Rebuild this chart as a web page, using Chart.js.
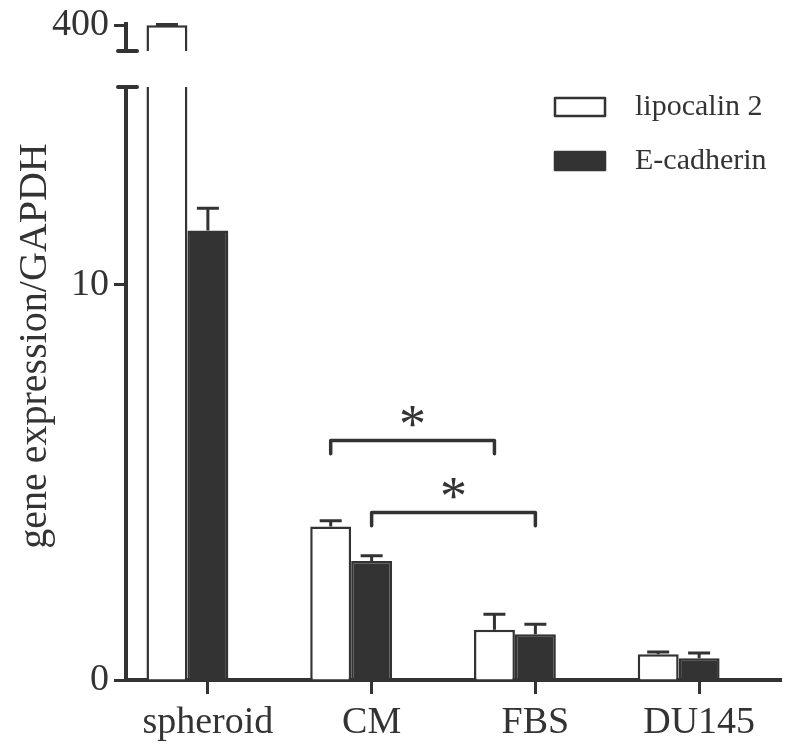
<!DOCTYPE html>
<html>
<head>
<meta charset="utf-8">
<script src="https://cdn.jsdelivr.net/npm/chart.js@4/dist/chart.umd.min.js"></script>
<style>
	html, body { margin: 0; padding: 0; background: #fff; }
	#wrap { position: relative; width: 794px; height: 749px; }
	canvas { position: absolute; left: 0; top: 0; }
</style>
</head>
<body>
<div id="wrap">
	<canvas id="lower" width="794" height="749"></canvas>
	<canvas id="upper" width="794" height="87"></canvas>
</div>
<script>
const categories = ['spheroid', 'CM', 'FBS', 'DU145'];
const lipocalin = [400, 3.88, 1.27, 0.65];
const lipocalinErr = [0.3, 0.15, 0.39, 0.06];
const ecadherin = [11.37, 3.01, 1.16, 0.55];
const ecadherinErr = [0.56, 0.13, 0.25, 0.13];
const lowerRange = [0, 15];
const upperRange = [390, 400.5];
const lowerTicks = [0, 10];
const upperTicks = [400];
// significance brackets: [category, series] -> [category, series], bar height, leg drop, star height
const brackets = [
	{ from: [1, 0], to: [2, 0], y: 6.06, drop: 0.34, star: 6.67 },
	{ from: [1, 1], to: [2, 1], y: 4.24, drop: 0.34, star: 4.85 },
];

const INK = '#333';
const SERIF = '"Liberation Serif", "Times New Roman", serif';

function buildDatasets(keep) {
	return [
		{ label: 'lipocalin 2', data: lipocalin.map(keep), err: lipocalinErr, backgroundColor: '#fff', borderColor: INK, borderWidth: 2.5 },
		{ label: 'E-cadherin', data: ecadherin.map(keep), err: ecadherinErr, backgroundColor: INK, borderColor: INK, borderWidth: 2.5 },
		// empty third slot, keeps the tick under the E-cadherin bar
		{ label: '', data: categories.map(() => null) },
	];
}

const errorBars = {
	id: 'errorBars',
	afterDatasetsDraw(chart) {
		const { ctx, scales: { y } } = chart;
		ctx.save();
		ctx.strokeStyle = INK;
		ctx.lineWidth = 3;
		chart.data.datasets.forEach((ds, di) => {
			if (!ds.err) return;
			chart.getDatasetMeta(di).data.forEach((bar, i) => {
				const v = ds.data[i];
				if (v == null || v > y.max) return;
				const top = y.getPixelForValue(v + ds.err[i]);
				ctx.beginPath();
				ctx.moveTo(bar.x, bar.y);
				ctx.lineTo(bar.x, top);
				ctx.moveTo(bar.x - 11, top);
				ctx.lineTo(bar.x + 11, top);
				ctx.stroke();
			});
		});
		ctx.restore();
	},
};

function breakMark(edge) {
	return {
		id: 'breakMark',
		afterDraw(chart) {
			const { ctx, chartArea } = chart;
			const yy = chartArea[edge];
			ctx.save();
			ctx.strokeStyle = INK;
			ctx.lineWidth = 4;
			ctx.lineCap = 'round';
			ctx.beginPath();
			ctx.moveTo(chartArea.left - 8, yy);
			ctx.lineTo(chartArea.left + 11, yy);
			ctx.stroke();
			ctx.restore();
		},
	};
}

const extras = {
	id: 'extras',
	afterDraw(chart) {
		const { ctx, scales: { y } } = chart;
		ctx.save();
		ctx.fillStyle = INK;
		ctx.strokeStyle = INK;

		// y title, centred on the whole broken axis
		ctx.save();
		ctx.translate(35, 346);
		ctx.rotate(-Math.PI / 2);
		ctx.font = '40px ' + SERIF;
		ctx.textAlign = 'center';
		ctx.textBaseline = 'middle';
		ctx.fillText('gene expression/GAPDH', 0, 0);
		ctx.restore();

		// brackets
		ctx.lineWidth = 3.5;
		ctx.lineJoin = 'round';
		ctx.lineCap = 'round';
		brackets.forEach((b) => {
			const x1 = chart.getDatasetMeta(b.from[1]).data[b.from[0]].x;
			const x2 = chart.getDatasetMeta(b.to[1]).data[b.to[0]].x;
			const yb = y.getPixelForValue(b.y);
			const yd = y.getPixelForValue(b.y - b.drop);
			ctx.beginPath();
			ctx.moveTo(x1, yd);
			ctx.lineTo(x1, yb);
			ctx.lineTo(x2, yb);
			ctx.lineTo(x2, yd);
			ctx.stroke();
			ctx.font = '54px ' + SERIF;
			ctx.textAlign = 'center';
			ctx.textBaseline = 'alphabetic';
			const m = ctx.measureText('*');
			const ys = y.getPixelForValue(b.star);
			const off = (m.actualBoundingBoxAscent - m.actualBoundingBoxDescent) / 2;
			ctx.fillText('*', (x1 + x2) / 2, ys + off);
		});

		// legend
		ctx.font = '30px ' + SERIF;
		ctx.textAlign = 'left';
		ctx.textBaseline = 'middle';
		ctx.lineWidth = 2.5;
		const rows = [98, 152];
		chart.data.datasets.slice(0, 2).forEach((ds, i) => {
			ctx.fillStyle = ds.backgroundColor;
			ctx.fillRect(555, rows[i], 50, 18);
			ctx.strokeRect(555, rows[i], 50, 18);
			ctx.fillStyle = INK;
			ctx.fillText(ds.label, 635, rows[i] + 9);
		});
		ctx.restore();
	},
};

function xScale(show) {
	return {
		display: show,
		grid: { offset: false, drawOnChartArea: false, tickLength: 14, tickWidth: 3, tickColor: INK },
		border: { width: 4, color: INK },
		ticks: { color: INK, font: { family: SERIF, size: 38 }, padding: 6 },
		afterFit: (s) => { s.height = show ? 69 : 0; },
	};
}

function yScale(range, ticks) {
	return {
		min: range[0],
		max: range[1],
		afterBuildTicks: (s) => { s.ticks = ticks.map((v) => ({ value: v })); },
		grid: { drawOnChartArea: false, tickLength: 12, tickWidth: 3, tickColor: INK },
		border: { width: 4, color: INK },
		ticks: { color: INK, font: { family: SERIF, size: 38, lineHeight: 1 }, padding: 5 },
		afterFit: (s) => { s.width = 126; },
	};
}

const shared = {
	responsive: false,
	animation: false,
	plugins: { legend: { display: false }, tooltip: { enabled: false } },
	datasets: { bar: { categoryPercentage: 0.75, barPercentage: 1 } },
};

new Chart(document.getElementById('lower'), {
	type: 'bar',
	data: { labels: categories, datasets: buildDatasets((v) => v) },
	options: {
		...shared,
		layout: { padding: { top: 87, right: 13, left: 0, bottom: 0 } },
		scales: { x: xScale(true), y: yScale(lowerRange, lowerTicks) },
	},
	plugins: [errorBars, breakMark('top'), extras],
});

new Chart(document.getElementById('upper'), {
	type: 'bar',
	data: { labels: categories, datasets: buildDatasets((v) => (v >= upperRange[0] ? v : null)) },
	options: {
		...shared,
		layout: { padding: { top: 21, right: 13, left: 0, bottom: 36 } },
		scales: { x: xScale(false), y: yScale(upperRange, upperTicks) },
	},
	plugins: [errorBars, breakMark('bottom')],
});
</script>
</body>
</html>
